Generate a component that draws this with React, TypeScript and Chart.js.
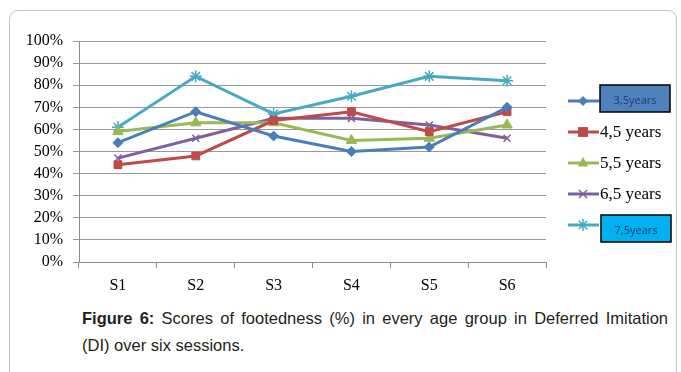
import React, { useEffect, useRef } from "react";
import { Chart, registerables } from "chart.js";

Chart.register(...registerables);

const categories = ["S1", "S2", "S3", "S4", "S5", "S6"];
const seriesNames = ["3,5years", "4,5 years", "5,5 years", "6,5 years", "7,5years"];
const age35 = [54, 68, 57, 50, 52, 70];
const age45 = [44, 48, 64, 68, 59, 68];
const age55 = [59, 63, 63, 55, 56, 62];
const age65 = [47, 56, 65, 65, 62, 56];
const age75 = [61, 84, 67, 75, 84, 82];
const yTicks = [0, 10, 20, 30, 40, 50, 60, 70, 80, 90, 100];

const colors = ["#4A7EBB", "#BE4B48", "#98B954", "#7D60A0", "#46AAC5"];
const pointStyles = ["rectRot", "rect", "triangle", "crossRot", "star"];
const pointRadii = [5, 5.5, 6, 5, 6];
const boxed: Record<number, { fill: string; dx: number; dy: number }> = {
  0: { fill: "#4F81BD", dx: 0, dy: -16 },
  4: { fill: "#00B0F0", dx: 1, dy: -10 },
};

const SERIF = "'Liberation Serif', 'Times New Roman', serif";

function drawPoint(ctx: any, style: string, r: number, x: number, y: number, color: string) {
  ctx.save();
  ctx.fillStyle = color;
  ctx.strokeStyle = color;
  ctx.beginPath();
  if (style === "rectRot") {
    ctx.moveTo(x, y - r);
    ctx.lineTo(x + r, y);
    ctx.lineTo(x, y + r);
    ctx.lineTo(x - r, y);
    ctx.closePath();
    ctx.fill();
  } else if (style === "rect") {
    const s = r * 0.9;
    ctx.fillRect(x - s, y - s, 2 * s, 2 * s);
  } else if (style === "triangle") {
    ctx.moveTo(x, y - r);
    ctx.lineTo(x + r * 0.9, y + r * 0.6);
    ctx.lineTo(x - r * 0.9, y + r * 0.6);
    ctx.closePath();
    ctx.fill();
  } else if (style === "crossRot") {
    ctx.lineWidth = 1.5;
    const s = r * 0.8;
    ctx.moveTo(x - s, y - s);
    ctx.lineTo(x + s, y + s);
    ctx.moveTo(x + s, y - s);
    ctx.lineTo(x - s, y + s);
    ctx.stroke();
  } else if (style === "star") {
    ctx.lineWidth = 1.5;
    for (let k = 0; k < 4; k++) {
      const a = (k * Math.PI) / 4;
      ctx.moveTo(x - r * Math.cos(a), y - r * Math.sin(a));
      ctx.lineTo(x + r * Math.cos(a), y + r * Math.sin(a));
    }
    ctx.stroke();
  }
  ctx.restore();
}

const legendPlugin = {
  id: "customLegend",
  afterDraw(chart: any) {
    const ctx = chart.ctx;
    const x0 = 568;
    chart.data.datasets.forEach((ds: any, i: number) => {
      const y = 101 + i * 31;
      ctx.save();
      ctx.strokeStyle = ds.borderColor;
      ctx.lineWidth = 3;
      ctx.beginPath();
      ctx.moveTo(x0, y);
      ctx.lineTo(x0 + 31, y);
      ctx.stroke();
      drawPoint(ctx, ds.pointStyle, ds.pointRadius, x0 + 15, y, ds.borderColor);
      const b = boxed[i];
      if (b) {
        const bx = 600 + b.dx;
        const by = y + b.dy;
        ctx.fillStyle = b.fill;
        ctx.fillRect(bx, by, 70, 27);
        ctx.strokeStyle = "#000";
        ctx.lineWidth = 1.5;
        ctx.strokeRect(bx, by, 70, 27);
        ctx.fillStyle = "#1F3E6E";
        ctx.font = "11px 'Open Sans', 'Noto Sans', sans-serif";
        ctx.textAlign = "center";
        ctx.textBaseline = "middle";
        ctx.fillText(ds.label, bx + 35, by + 16);
      } else {
        ctx.fillStyle = "#000";
        ctx.font = "17px " + SERIF;
        ctx.textAlign = "left";
        ctx.textBaseline = "middle";
        ctx.fillText(ds.label, 600, y + 1);
      }
      ctx.restore();
    });
  },
};

export default function App() {
  const ref = useRef<HTMLCanvasElement>(null);
  useEffect(() => {
    document.body.style.margin = "0";
    Chart.defaults.font.family = SERIF;
    const values = [age35, age45, age55, age65, age75];
    const chart = new Chart(ref.current!, {
      type: "line",
      data: {
        labels: categories,
        datasets: values.map((v, i) => ({
          label: seriesNames[i],
          data: v,
          borderColor: colors[i],
          backgroundColor: colors[i],
          pointBackgroundColor: colors[i],
          pointBorderColor: colors[i],
          pointStyle: pointStyles[i] as any,
          pointRadius: pointRadii[i],
          pointBorderWidth: i >= 3 ? 1.5 : 1,
          borderWidth: 3,
          tension: 0,
          fill: false,
        })),
      },
      options: {
        animation: false,
        responsive: false,
        layout: { padding: { left: 0, right: 135, top: 41, bottom: 0 } },
        plugins: { legend: { display: false }, tooltip: { enabled: false } },
        scales: {
          x: {
            offset: true,
            grid: {
              offset: true,
              drawOnChartArea: false,
              tickLength: 6,
              color: "#8c8c8c",
            },
            border: { color: "#8c8c8c", width: 1 },
            ticks: {
              color: "#000",
              padding: 8,
              font: { family: SERIF, size: 16 },
            },
            afterFit(scale: any) {
              scale.height = 38;
            },
          },
          y: {
            min: 0,
            max: 100,
            afterBuildTicks(scale: any) {
              scale.ticks = yTicks.map((v) => ({ value: v }));
            },
            grid: { color: "#999999", tickLength: 6, lineWidth: 1 },
            border: { color: "#8c8c8c", width: 1 },
            ticks: {
              color: "#000",
              padding: 10,
              autoSkip: false,
              callback: (v: any) => v + "%",
              font: { family: SERIF, size: 16 },
            },
            afterFit(scale: any) {
              scale.width = 79;
            },
          },
        },
      },
      plugins: [legendPlugin],
    });
    return () => chart.destroy();
  }, []);

  const captionStyle: React.CSSProperties = {
    position: "absolute",
    left: 82,
    width: 586,
    fontFamily: "'Liberation Sans', Arial, sans-serif",
    fontSize: 16.5,
    lineHeight: "20px",
    color: "#231f20",
    whiteSpace: "nowrap",
  };

  return (
    <div style={{ position: "relative", width: 681, height: 372, overflow: "hidden", background: "#fff" }}>
      <div
        style={{
          position: "absolute",
          left: 9,
          top: 10,
          width: 668,
          height: 420,
          border: "1px solid #c4c4c4",
          borderRadius: 9,
          boxSizing: "border-box",
        }}
      />
      <canvas ref={ref} width={681} height={300} style={{ position: "absolute", left: 0, top: 0 }} />
      <div style={{ ...captionStyle, top: 308, whiteSpace: "normal", textAlign: "justify", textAlignLast: "justify" as any }}>
        <b>Figure 6:</b> Scores of footedness (%) in every age group in Deferred Imitation
      </div>
      <div style={{ ...captionStyle, top: 335 }}>(DI) over six sessions.</div>
    </div>
  );
}
